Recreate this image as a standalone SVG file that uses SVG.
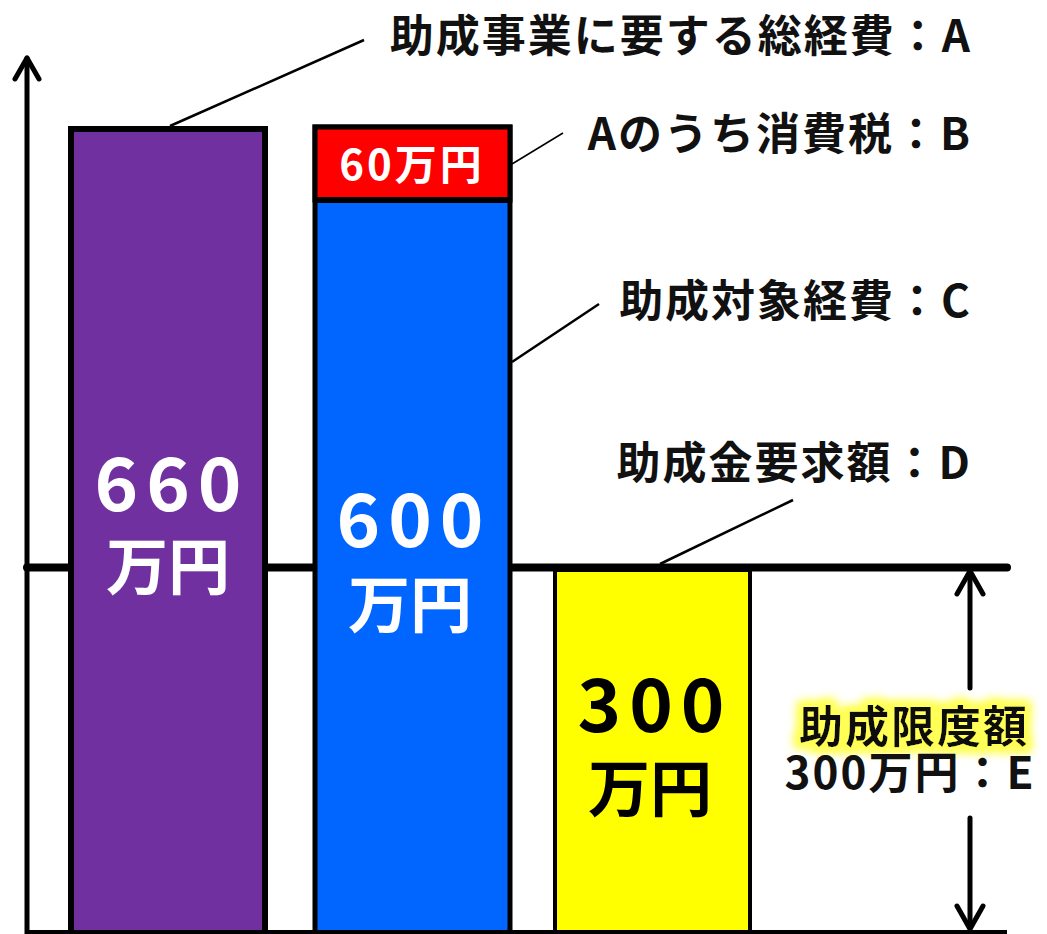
<svg xmlns="http://www.w3.org/2000/svg" width="1047" height="934" viewBox="0 0 1047 934">
<style>
.lbl{font-family:"Noto Sans CJK JP","Noto Sans",sans-serif;font-weight:700;font-size:44px;fill:#111;letter-spacing:2px}
.big{font-family:"Noto Sans CJK JP","Noto Sans",sans-serif;font-weight:700;text-anchor:middle}
.num{font-size:74px;letter-spacing:8px}
.yen{font-size:62px}
.w{fill:#fff}
.k{fill:#000}
.ax{stroke:#000;fill:none;stroke-linecap:round;stroke-linejoin:round}
.ld{stroke:#000;fill:none}
</style>
<defs>
<filter id="glow" x="-20%" y="-50%" width="140%" height="200%">
<feMorphology in="SourceAlpha" operator="dilate" radius="5" result="d"/>
<feGaussianBlur in="d" stdDeviation="5" result="b"/>
<feFlood flood-color="#ffff55"/>
<feComposite in2="b" operator="in" result="g"/>
<feMerge><feMergeNode in="g"/><feMergeNode in="g"/><feMergeNode in="SourceGraphic"/></feMerge>
</filter>
</defs>
<rect width="1047" height="934" fill="#fff"/>
<g id="connectors">
<line class="ax" x1="27" y1="567.5" x2="1007" y2="567.5" stroke-width="8" stroke-linecap="butt"/>
<line class="ax" x1="27" y1="58" x2="27" y2="934" stroke-width="5"/>
<polyline class="ax" points="15,79 27,58 39,79" stroke-width="5"/>
<line class="ld" x1="170" y1="126" x2="364" y2="40" stroke-width="2.5"/>
<line class="ld" x1="512" y1="164" x2="563" y2="133" stroke-width="1.5"/>
<line class="ld" x1="512" y1="362" x2="599" y2="304" stroke-width="2.5"/>
<line class="ld" x1="660" y1="564" x2="793" y2="500" stroke-width="2.5"/>
</g>
<g id="bar-total">
<rect x="71" y="129" width="194" height="820" fill="#7030A0" stroke="#000" stroke-width="6"/>
<text class="big num w" x="172" y="511">660</text>
<text class="big yen w" x="168" y="590">万円</text>
</g>
<g id="bar-target">
<rect x="315" y="127" width="195" height="820" fill="#0066FF" stroke="#000" stroke-width="5"/>
<rect x="315" y="127" width="195" height="73" fill="#FF0000" stroke="#000" stroke-width="5"/>
<line x1="313" y1="200" x2="512" y2="200" stroke="#000" stroke-width="6"/>
<text class="big w" x="412" y="180" font-size="42" letter-spacing="3">60万円</text>
<text class="big num w" x="414" y="547">600</text>
<text class="big yen w" x="410" y="628">万円</text>
</g>
<g id="bar-request">
<rect x="555" y="570" width="195" height="380" fill="#FFFF00" stroke="#000" stroke-width="4"/>
<text class="big num k" x="655" y="732">300</text>
<text class="big yen k" x="650" y="812">万円</text>
</g>
<g id="bottom-line">
<line x1="27" y1="932" x2="1007" y2="932" stroke="#000" stroke-width="4"/>
</g>
<g id="label-a"><text class="lbl" x="972" y="52" text-anchor="end">助成事業に要する総経費：A</text></g>
<g id="label-b"><text class="lbl" x="972" y="150" text-anchor="end">Aのうち消費税：B</text></g>
<g id="label-c"><text class="lbl" x="972" y="317" text-anchor="end">助成対象経費：C</text></g>
<g id="label-d"><text class="lbl" x="972" y="479" text-anchor="end">助成金要求額：D</text></g>
<g id="limit-arrow">
<line class="ax" x1="970" y1="572" x2="970" y2="688" stroke-width="5"/>
<polyline class="ax" points="957,594 970,571 983,594" stroke-width="5"/>
<line class="ax" x1="970" y1="818" x2="970" y2="928" stroke-width="5"/>
<polyline class="ax" points="957,906 970,929 983,906" stroke-width="5"/>
</g>
<g id="label-e">
<text class="lbl" x="914" y="743" text-anchor="middle" filter="url(#glow)">助成限度額</text>
<text class="lbl" x="910" y="789" text-anchor="middle" letter-spacing="3">300万円：E</text>
</g>
</svg>
